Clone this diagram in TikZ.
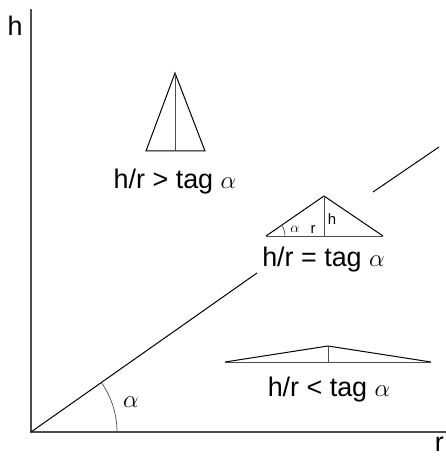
\documentclass[tikz,border=0pt]{standalone}
\usepackage{fontspec}
\setmainfont{Liberation Sans}
\begin{document}
\begin{tikzpicture}[x=1bp,y=-1bp,
  axisline/.style={line width=1.5bp,draw=black!70},
  cone/.style={line width=1bp,draw=black},
  median/.style={line width=0.7bp,draw=black!70},
  biglabel/.style={font=\fontsize{27}{31}\selectfont,inner sep=0pt},
  smalllabel/.style={font=\fontsize{15}{17}\selectfont,inner sep=0pt}]
\useasboundingbox (0,0) rectangle (446,458);
% axes
\draw[axisline] (31,9) -- (31,432) -- (446,432);
\node[biglabel,anchor=base] (hax) at (15,36) {h};
\node[biglabel,anchor=base east] (rax) at (444,451) {r};
% diagonal line
\draw[cone] (31,432) -- (257,273);
\draw[cone] (373,192) -- (439,147);
\draw[median] (117,432) arc[start angle=0,end angle=-35,radius=86];
\node[biglabel] (alpha) at (131,402) {$\alpha$};
% tall cone
\draw[cone] (146,151) -- (175,73) -- (205,151) -- cycle;
\draw[median] (175,73) -- (175,151);
\node[biglabel,anchor=base] (l1) at (175,189) {h/r > tag $\alpha$};
% middle cone
\draw[cone] (266,236) -- (324,196) -- (383,236);
\draw[median] (266,236) -- (383,236);
\draw[median] (324,196) -- (324,236);
\draw[median] (285,236) arc[start angle=0,end angle=-35,radius=19];
\node[smalllabel] (sa) at (295,229) {$\alpha$};
\node[smalllabel] (sr) at (313,229) {r};
\node[smalllabel] (sh) at (332,219) {h};
\node[biglabel,anchor=base] (l2) at (323.5,266) {h/r = tag $\alpha$};
% flat cone
\draw[cone] (225,362) -- (328,346) -- (431,362);
\draw[median] (225,362) -- (431,362);
\draw[median] (328,346) -- (328,362);
\node[biglabel,anchor=base] (l3) at (329,396) {h/r < tag $\alpha$};
\end{tikzpicture}
\end{document}
